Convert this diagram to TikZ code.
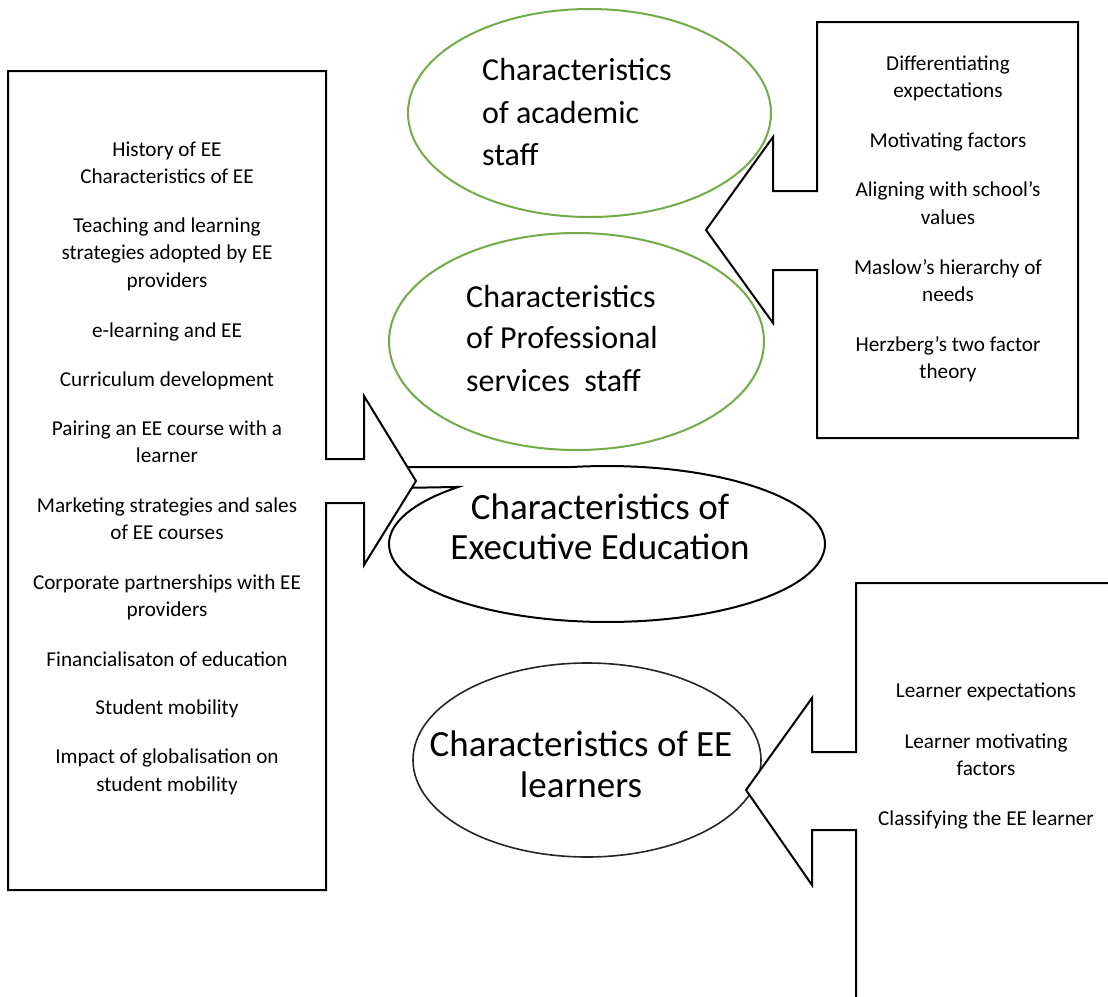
\documentclass[tikz,border=0pt]{standalone}
\usepackage{fontspec}
\setmainfont{Carlito}
\usetikzlibrary{shapes.geometric}
\definecolor{eegreen}{RGB}{112,173,71}
\tikzset{
  callout/.style={draw=black, line width=2pt, fill=white, line join=miter},
  mainell/.style={draw=black, line width=2pt, fill=white},
  greenell/.style={ellipse, draw=eegreen, line width=2pt, fill=white, inner sep=0pt},
  learnell/.style={ellipse, draw=black!85, line width=1.6pt, fill=white, inner sep=0pt},
  lt/.style={font=\fontsize{21.2}{25}\selectfont, anchor=base, inner sep=0pt},
  elt/.style={font=\fontsize{32}{38}\selectfont, anchor=base west, inner sep=0pt},
  mt/.style={font=\fontsize{37}{44}\selectfont, anchor=base, inner sep=0pt},
  lrt/.style={font=\fontsize{37}{44}\selectfont, anchor=base, inner sep=0pt}
}
\begin{document}
\begin{tikzpicture}[x=1pt,y=-1pt]
\clip (0,0) rectangle (1108,996);
\fill[white] (0,0) rectangle (1108,996);
% ellipses
\node[greenell, minimum width=363pt, minimum height=208pt] (acad) at (589.5,113) {};
\node[greenell, minimum width=375pt, minimum height=217pt] (prof) at (576.5,341.5) {};
\draw[mainell] (398,467) -- plot[domain=260:587, samples=150] ({607+218*cos(\x)},{544+78*sin(\x)}) -- (398,488) -- cycle;
\coordinate (exec) at (607,544);
\node[learnell, minimum width=348pt, minimum height=194pt] (learn) at (587,760) {};
% callouts
\draw[callout] (8,71) -- (326,71) -- (326,459) -- (364,459) -- (364,396) -- (416,481)
  -- (364,565) -- (364,503) -- (326,503) -- (326,890) -- (8,890) -- cycle;
\draw[callout] (817,22) -- (1078,22) -- (1078,438) -- (817,438) -- (817,270) -- (773,270)
  -- (773,323) -- (706,230) -- (773,137) -- (773,191) -- (817,191) -- cycle;
\draw[callout] (856,583) -- (1130,583) -- (1130,1010) -- (856,1010) -- (856,830) -- (812,830)
  -- (812,885) -- (746,790) -- (812,698) -- (812,752) -- (856,752) -- cycle;
% ellipse texts
\node[elt] (a1) at (482,80) {Characteristics};
\node[elt] (a2) at (482,123) {of academic};
\node[elt] (a3) at (482,165) {staff};
\node[elt] (p1) at (466,307) {Characteristics};
\node[elt] (p2) at (466,348) {of Professional};
\node[elt] (p3) at (466,391) {services\ \ staff};
\node[mt] (m1) at (600,519) {Characteristics of};
\node[mt] (m2) at (600,559) {Executive Education};
\node[lrt] (r1) at (581,756) {Characteristics of EE};
\node[lrt] (r2) at (581,797) {learners};
% left list
\foreach \t/\y [count=\i] in {History of EE/156, Characteristics of EE/183,
  Teaching and learning/232, strategies adopted by EE/259, providers/287,
  e-learning and EE/337, Curriculum development/386,
  Pairing an EE course with a/435, learner/462,
  Marketing strategies and sales/512, of EE courses/539,
  Corporate partnerships with EE/589, providers/616,
  Financialisaton of education/666, Student mobility/714,
  Impact of globalisation on/763, student mobility/791}
  \node[lt] (L\i) at (167,\y) {\t};
% top right list
\foreach \t/\y [count=\i] in {Differentiating/70, expectations/97.5,
  Motivating factors/147, Aligning with school’s/196.5, values/224,
  Maslow’s hierarchy of/274, needs/301.5,
  Herzberg’s two factor/351, theory/378}
  \node[lt] (T\i) at (948,\y) {\t};
% bottom right list
\foreach \t/\y [count=\i] in {Learner expectations/697, Learner motivating/748.5,
  factors/775.5, Classifying the EE learner/825}
  \node[lt] (B\i) at (986,\y) {\t};
\end{tikzpicture}
\end{document}
